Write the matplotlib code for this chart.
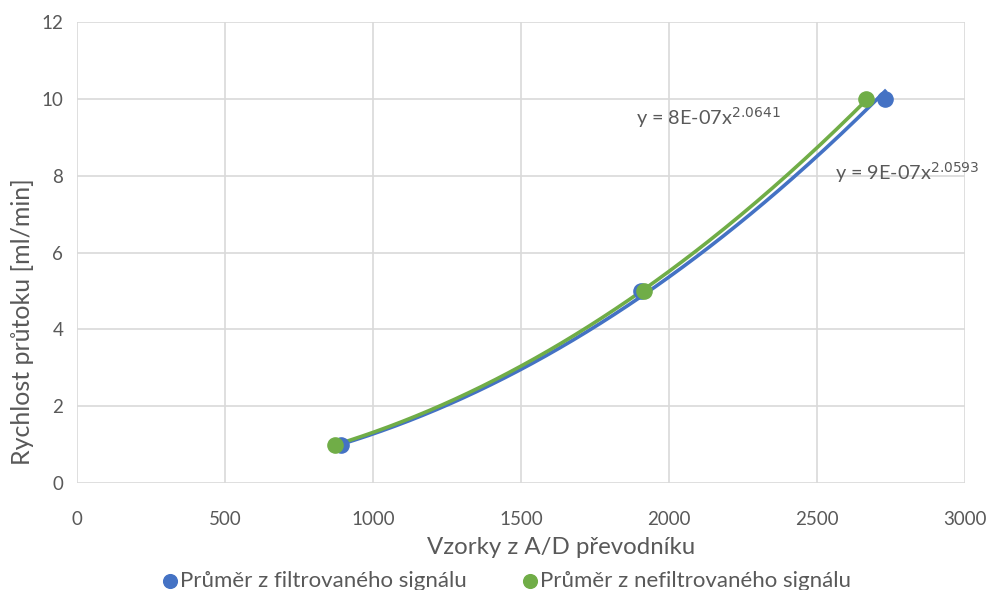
import numpy as np
import matplotlib
matplotlib.use("Agg")
import matplotlib.pyplot as plt

plt.rcParams["font.family"] = ["Lato", "DejaVu Sans"]

# measured samples (A/D counts) vs flow rate
flow = [1, 5, 10]
filt_x = [890, 1906, 2729]
nefilt_x = [872, 1913.5, 2664]

BLUE = "#4472C4"
GREEN = "#70AD47"
GRID = "#D9D9D9"
TXT = "#595959"


def power_fit(x, y):
    # least squares in log-log space, same as a power trendline
    b, ln_a = np.polyfit(np.log(x), np.log(y), 1)
    return np.exp(ln_a), b


fig = plt.figure(figsize=(9.89, 5.90), dpi=100)
ax = fig.add_axes([0.078, 0.181, 0.898, 0.782])

for xs, color, label in [(filt_x, BLUE, "Průměr z filtrovaného signálu"),
                         (nefilt_x, GREEN, "Průměr z nefiltrovaného signálu")]:
    a, b = power_fit(xs, flow)
    ax.scatter(xs, flow, s=120, color=color, zorder=3, label=label)
    xx = np.linspace(min(xs), max(xs), 200)
    ax.plot(xx, a * xx ** b, color=color, lw=2.6, zorder=2)

ax.text(1888, 9.5, "y = 8E-07x$^{2.0641}$", fontsize=14.3, color=TXT, va="center")
ax.text(2561, 8.09, "y = 9E-07x$^{2.0593}$", fontsize=14.3, color=TXT, va="center")

ax.set_xlim(0, 3000)
ax.set_ylim(0, 12)
ax.set_xticks(np.arange(0, 3001, 500))
ax.set_yticks(np.arange(0, 13, 2))
ax.grid(True, color=GRID, lw=1.2)
ax.set_axisbelow(True)
for s in ax.spines.values():
    s.set_visible(False)
ax.tick_params(length=0, labelsize=13.5, labelcolor=TXT)
ax.tick_params(axis="x", pad=20)
ax.tick_params(axis="y", pad=10)
ax.set_xlabel("Vzorky z A/D převodníku", fontsize=17.3, color=TXT)
ax.set_ylabel("Rychlost průtoku [ml/min]", fontsize=18, color=TXT)
ax.xaxis.set_label_coords(0.545, -0.117)
ax.yaxis.set_label_coords(-0.049, 0.351)

fig.legend(loc="lower center", bbox_to_anchor=(0.512, -0.035), ncol=2, frameon=False,
           fontsize=16, labelcolor=TXT, handlelength=0.7, handletextpad=0.1,
           columnspacing=2.5, markerscale=0.9)

fig.savefig("out.png", dpi=100)
